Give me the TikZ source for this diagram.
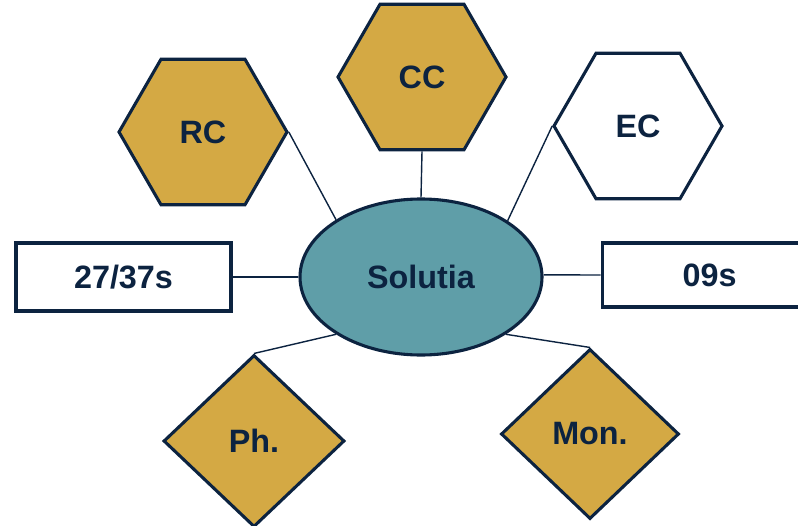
\documentclass[tikz,border=0pt]{standalone}
\usepackage{fontspec}
\setmainfont{Liberation Sans}
\usepackage{tikz}
\usetikzlibrary{shapes.geometric,positioning}
\definecolor{navy}{RGB}{12,35,64}
\definecolor{gold}{RGB}{212,169,68}
\definecolor{teal}{RGB}{95,158,168}
\tikzset{
    every node/.style={font=\fontsize{23}{27}\selectfont\bfseries, text=navy},
    shp/.style={draw=navy, line width=2.2pt, inner sep=0pt},
    hexa/.style={shp, regular polygon, regular polygon sides=6, minimum size=4.2cm},
    dia/.style={shp, diamond, fill=gold},
    box/.style={shp, rectangle, fill=white, minimum width=5.375cm},
    link/.style={draw=navy, line width=1pt}
}
\begin{document}
\begin{tikzpicture}[]
    \useasboundingbox (0,0) rectangle (19.95,13.125);
    \node[shp,ellipse,fill=teal,minimum width=6.05cm,minimum height=3.9cm] at (10.525,6.2) (sol) {Solutia};
    \node[hexa,fill=gold] at (5.075,9.825) (rc) {RC};
    \node[hexa,fill=gold] at (10.55,11.2) (cc) {CC};
    \node[hexa,fill=white] at (15.95,9.975) (ec) {EC};
    \node[box,minimum height=1.7cm] at (3.0875,6.2) (left) {27/37s};
    \node[box,minimum height=1.6cm] at (17.74,6.25) (right) {09s};
    \node[dia,minimum width=4.525cm,minimum height=4.3cm] at (6.35,2.1) (ph) {Ph.};
    \node[dia,minimum width=4.45cm,minimum height=4.25cm] at (14.75,2.275) (mon) {Mon.};
    \path[link]
    (rc.east) edge (sol.146.6)
    (cc.south) edge (sol.north)
    (ec.west) edge (sol.33.2)
    (left.east) edge (sol.west)
    (right.west) edge (sol.1)
    (ph.north) edge (sol.214)
    (mon.north) edge (sol.326.6)
    ;
\end{tikzpicture}
\end{document}
